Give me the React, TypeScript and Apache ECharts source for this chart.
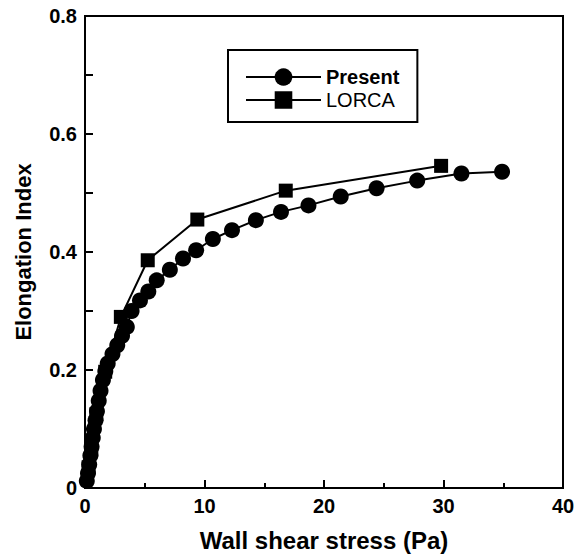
import React, { useEffect, useRef } from "react";
import * as echarts from "echarts";

const presentX = [0.15, 0.25, 0.35, 0.45, 0.55, 0.65, 0.75, 0.88, 1.0, 1.15, 1.3, 1.5, 1.7, 1.9, 2.3, 2.7, 3.1, 3.5, 3.9, 4.6, 5.3, 6.0, 7.1, 8.2, 9.3, 10.7, 12.3, 14.3, 16.4, 18.7, 21.4, 24.4, 27.8, 31.5, 34.9];
const presentY = [0.012, 0.025, 0.04, 0.055, 0.07, 0.085, 0.1, 0.115, 0.13, 0.148, 0.165, 0.183, 0.198, 0.211, 0.227, 0.242, 0.258, 0.273, 0.3, 0.318, 0.333, 0.352, 0.37, 0.389, 0.403, 0.422, 0.437, 0.454, 0.468, 0.479, 0.494, 0.508, 0.521, 0.533, 0.536];
const lorcaX = [0.3, 0.53, 0.95, 1.69, 3.0, 5.25, 9.4, 16.8, 29.8];
const lorcaY = [0.035, 0.065, 0.125, 0.197, 0.29, 0.386, 0.455, 0.504, 0.546];
const xTicks = [0, 10, 20, 30, 40];
const yTicks = [0, 0.2, 0.4, 0.6, 0.8];

const FONT = "'Liberation Sans', Arial, sans-serif";

export default function App() {
  const ref = useRef<HTMLDivElement>(null);
  useEffect(() => {
    if (!ref.current) return;
    const chart = echarts.init(ref.current, null, { renderer: "svg" });
    chart.setOption({
      animation: false,
      backgroundColor: "#fff",
      textStyle: { fontFamily: FONT },
      grid: {
        left: 85,
        right: 23,
        top: 16,
        bottom: 65,
        show: true,
        borderColor: "#000",
        borderWidth: 2,
        backgroundColor: "transparent",
      },
      legend: {
        left: 228,
        top: 50,
        orient: "vertical",
        itemWidth: 75,
        itemHeight: 22,
        itemGap: 3,
        borderColor: "#000",
        borderWidth: 2,
        borderRadius: 0,
        padding: [17, 18, 12, 17],
        textStyle: { fontFamily: FONT, fontSize: 20, color: "#000" },
        data: [
          { name: "Present", textStyle: { fontWeight: "bold" } },
          { name: "LORCA", textStyle: { fontWeight: "normal" } },
        ],
      },
      xAxis: {
        type: "value",
        min: xTicks[0],
        max: xTicks[xTicks.length - 1],
        interval: 10,
        axisLine: { show: true, onZero: false, lineStyle: { color: "#000", width: 2 } },
        axisTick: { show: true, inside: true, length: 8, lineStyle: { color: "#000", width: 2 } },
        minorTick: { show: true, splitNumber: 2, length: 5, lineStyle: { color: "#000", width: 2 } },
        splitLine: { show: false },
        axisLabel: {
          color: "#000",
          fontSize: 20,
          fontWeight: "bold",
          fontFamily: FONT,
          margin: 8,
        },
        name: "Wall shear stress (Pa)",
        nameLocation: "middle",
        nameGap: 40,
        nameTextStyle: { color: "#000", fontSize: 24, fontWeight: "bold", fontFamily: FONT },
      },
      yAxis: {
        type: "value",
        min: yTicks[0],
        max: yTicks[yTicks.length - 1],
        interval: 0.2,
        axisLine: { show: true, onZero: false, lineStyle: { color: "#000", width: 2 } },
        axisTick: { show: true, inside: true, length: 8, lineStyle: { color: "#000", width: 2 } },
        minorTick: { show: true, splitNumber: 2, length: 8, lineStyle: { color: "#000", width: 2 } },
        splitLine: { show: false },
        axisLabel: {
          color: "#000",
          fontSize: 20,
          fontWeight: "bold",
          fontFamily: FONT,
          margin: 8,
          formatter: (v: number) => (v === 0 ? "0" : v.toFixed(1)),
        },
        name: "Elongation Index",
        nameLocation: "middle",
        nameGap: 51,
        nameTextStyle: { color: "#000", fontSize: 22, fontWeight: "bold", fontFamily: FONT },
      },
      series: [
        {
          name: "Present",
          type: "line",
          data: presentX.map((x, i) => [x, presentY[i]]),
          symbol: "circle",
          symbolSize: 16,
          itemStyle: { color: "#000" },
          lineStyle: { color: "#000", width: 2 },
          z: 3,
        },
        {
          name: "LORCA",
          type: "line",
          data: lorcaX.map((x, i) => [x, lorcaY[i]]),
          symbol: "rect",
          symbolSize: 14,
          itemStyle: { color: "#000" },
          lineStyle: { color: "#000", width: 2 },
          z: 4,
        },
      ],
    });
    return () => chart.dispose();
  }, []);
  return <div ref={ref} style={{ width: 586, height: 557, position: "absolute", left: 0, top: 0 }} />;
}
